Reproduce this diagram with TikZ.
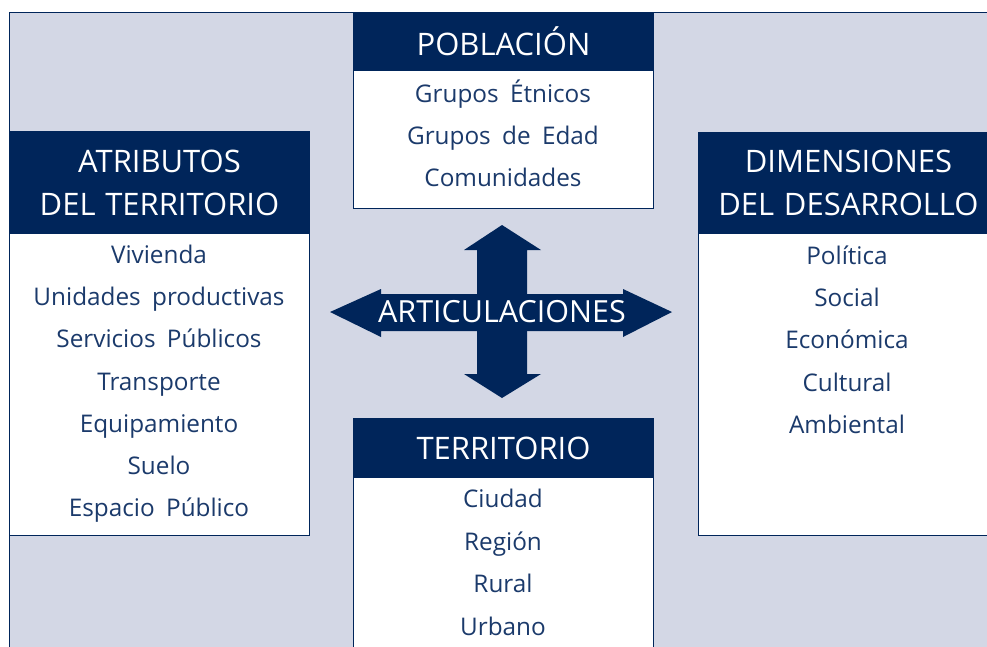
\documentclass[tikz,border=0pt]{standalone}
\usepackage{fontspec}
\setmainfont{Open Sans}[WordSpace=1.8]
\newfontfamily\hdrfont{Open Sans}[WordSpace=1.2]
\definecolor{navy}{HTML}{00255A}
\definecolor{panel}{HTML}{D3D7E5}
\definecolor{txt}{HTML}{1B3A6B}
\tikzset{
  hdr/.style={fill=navy, draw=navy, line width=1pt, text=white, align=center, inner sep=0pt,
    anchor=north west, font=\hdrfont\fontsize{31}{43}\selectfont, minimum width=300pt},
  bodybox/.style={fill=white, draw=navy, line width=1pt, inner sep=0pt, anchor=north west, minimum width=300pt},
  item/.style={text=txt, anchor=base, inner sep=0pt, font=\fontsize{24.3}{28}\selectfont},
  arrowshape/.style={fill=navy, draw=none}
}
\begin{document}
\begin{tikzpicture}[x=1pt,y=-1pt]
\useasboundingbox (0,0) rectangle (987,646);
\clip (0,0) rectangle (987,646);
\fill[white] (0,0) rectangle (987,646);
\draw[navy, line width=1pt, fill=panel] (9,12) rectangle (1000,700);

% bodies
\node[bodybox, minimum height=196pt] (pobB) at (353,12) {};
\node[bodybox, minimum height=404pt] (atrB) at (9,131) {};
\node[bodybox, minimum height=403pt] (dimB) at (698,132) {};
\node[bodybox, minimum height=260pt] (terB) at (353,418) {};

% headers
\node[hdr, minimum height=58pt] (pobH) at (353,12) {POBLACIÓN};
\node[hdr, minimum height=102pt] (atrH) at (9,131) {ATRIBUTOS\\DEL TERRITORIO};
\node[hdr, minimum height=101pt] (dimH) at (698,132) {DIMENSIONES\\DEL DESARROLLO};
\node[hdr, minimum height=59pt] (terH) at (353,418) {TERRITORIO};

% items
\foreach \t [count=\i] in {Grupos Étnicos, Grupos de Edad, Comunidades}
  \node[item] (pob\i) at (503,{94+42*(\i-1)+8.5}) {\t};
\foreach \t [count=\i] in {Vivienda, Unidades productivas, Servicios Públicos, Transporte, Equipamiento, Suelo, Espacio Público}
  \node[item] (atr\i) at (159,{255+42.2*(\i-1)+8.5}) {\t};
\foreach \t [count=\i] in {Política, Social, Económica, Cultural, Ambiental}
  \node[item] (dim\i) at (847,{256+42.2*(\i-1)+8.5}) {\t};
\foreach \t [count=\i] in {Ciudad, Región, Rural, Urbano}
  \node[item] (ter\i) at (503,{499+42.5*(\i-1)+8.5}) {\t};

% cross arrow
\fill[arrowshape] (330,312) -- (381,289) -- (381,294) -- (623,294) -- (623,289) -- (672,312)
  -- (623,337) -- (623,331) -- (381,331) -- (381,337) -- cycle;
\fill[arrowshape] (502,225) -- (541,250) -- (527,250) -- (527,374) -- (541,374) -- (502,398)
  -- (464,374) -- (477,374) -- (477,250) -- (464,250) -- cycle;
\node[text=white, inner sep=0pt, font=\fontsize{30.5}{32}\selectfont] (art) at (502,312) {ARTICULACIONES};
\end{tikzpicture}
\end{document}
